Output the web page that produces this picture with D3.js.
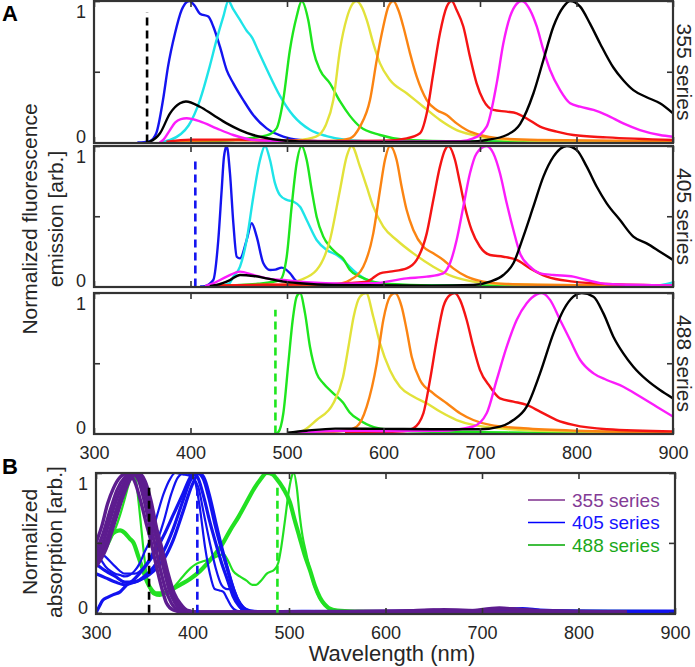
<!DOCTYPE html>
<html><head><meta charset="utf-8">
<script src="https://cdn.jsdelivr.net/npm/d3@7"></script>
<style>
body{margin:0;background:#fff}
svg{display:block}
text{font-family:"Liberation Sans",Arial,Helvetica,sans-serif}
</style>
</head><body>
<svg id="c" width="695" height="667"></svg>
<script>
// ---------------- DATA ----------------
const xTicks = [300,400,500,600,700,800,900];
const yTicks = [0,0.5,1];
const seriesNames = ["355 series","405 series","488 series"];
const excitation = [355,405,488];
const excitationTop = [0.92,0.9,0.88];
const absExcitationTop = 0.93;

// Emission, 355 series  [wavelength nm, normalized value]
const em355_blue = [[345,0],[352,0.003],[358,0.01],[364.5,0.065],[371.5,0.3],[376.7,0.536],[383.9,0.77],[390.8,0.936],[398.8,1.0],[404,0.97],[409.8,0.91],[418.5,0.89],[423.6,0.82],[430.5,0.677],[437.5,0.512],[444.4,0.418],[454.7,0.30],[465,0.194],[478.9,0.10],[496.1,0.042],[513.3,0.018],[540,0.008],[600,0.004],[900,0.003]];
const em355_cyan = [[370,0.002],[378.8,0.018],[390,0.06],[398,0.12],[409.8,0.30],[420,0.54],[427,0.725],[434,0.889],[439.2,1.0],[444.4,0.94],[451.3,0.866],[458.2,0.79],[464,0.74],[470,0.65],[478.9,0.52],[492.7,0.33],[506.5,0.19],[523.8,0.09],[541,0.045],[561.8,0.018],[600,0.006],[900,0.004]];
const em355_green = [[400,0.005],[444.4,0.018],[478.9,0.05],[489.2,0.1],[496.1,0.30],[503,0.654],[510,0.89],[515.2,1.0],[522,0.866],[527.2,0.654],[534.2,0.512],[544.5,0.418],[555,0.29],[565,0.19],[575.6,0.112],[596.4,0.053],[624,0.018],[680,0.008],[900,0.004]];
const em355_yellow = [[470,0.004],[510,0.015],[530,0.041],[540,0.12],[548,0.30],[555,0.66],[562,0.88],[567,0.97],[572,1.0],[578,0.95],[582.6,0.866],[589.4,0.701],[596.4,0.559],[606.7,0.442],[624,0.348],[641.3,0.253],[658.5,0.159],[675.8,0.088],[693,0.053],[710,0.029],[745,0.015],[800,0.008],[900,0.005]];
const em355_orange = [[380,0.01],[450,0.015],[520,0.008],[550,0.012],[565.3,0.029],[575.6,0.112],[586,0.30],[593,0.584],[599.8,0.82],[605,0.96],[610.2,1.0],[615.4,0.936],[620.5,0.82],[627.5,0.63],[634.4,0.465],[644.8,0.30],[655.1,0.23],[665.5,0.194],[675.8,0.135],[686.2,0.088],[700,0.053],[720.7,0.029],[760,0.018],[900,0.01]];
const em355_red = [[375,0.005],[400,0.02],[450,0.02],[500,0.015],[560,0.01],[600,0.012],[624,0.029],[637.8,0.065],[644.8,0.206],[651.6,0.489],[658.5,0.772],[665.5,0.96],[670.7,1.0],[675.8,0.936],[682.7,0.82],[689.6,0.607],[696.5,0.418],[703.4,0.30],[713.8,0.23],[727.7,0.218],[738,0.206],[748.4,0.17],[762.2,0.112],[779.5,0.077],[796.7,0.053],[831.3,0.036],[900,0.018]];
const em355_magenta = [[368,0],[372,0.02],[378,0.08],[384,0.14],[390,0.165],[396,0.171],[409.8,0.15],[427,0.10],[444.4,0.053],[465,0.018],[500,0.01],[600,0.006],[680,0.01],[693,0.029],[706.9,0.112],[717.3,0.418],[724.2,0.701],[731.1,0.889],[738,0.98],[743.3,1.0],[751.9,0.936],[758.8,0.82],[765.7,0.654],[772.6,0.512],[783,0.37],[793.4,0.277],[803.8,0.253],[817.6,0.23],[831.3,0.194],[848.5,0.135],[865.8,0.088],[886.5,0.053],[900,0.041]];
const em355_black = [[355,0],[358,0.006],[368.4,0.065],[378.8,0.206],[389.1,0.277],[395.3,0.29],[409.8,0.253],[423.6,0.194],[437.5,0.135],[451.3,0.088],[465,0.053],[485.8,0.023],[513,0.008],[600,0.004],[690,0.006],[706.9,0.018],[727.7,0.053],[741.5,0.13],[755.4,0.348],[765.7,0.583],[776.1,0.82],[786.5,0.96],[793.4,1.0],[803.8,0.96],[814,0.84],[824.4,0.70],[838.2,0.53],[848.5,0.44],[858.9,0.37],[872.7,0.32],[886.5,0.277],[900,0.206]];

// Emission, 405 series
const em405_blue = [[410,0],[415,0.003],[423.6,0.046],[428.8,0.331],[432.3,0.687],[434.7,0.924],[437.5,1.0],[440.9,0.806],[444.4,0.45],[447.9,0.212],[451.3,0.20],[458.2,0.331],[463.4,0.45],[468.6,0.355],[475.5,0.165],[482.4,0.117],[488,0.12],[494.5,0.134],[503.1,0.094],[508,0.05],[513.5,0.023],[530,0.008],[600,0.004],[900,0.003]];
const em405_cyan = [[430,0.003],[440,0.02],[444.4,0.07],[451.3,0.141],[458.2,0.331],[465.1,0.639],[472,0.9],[477.2,1.0],[482.4,0.9],[487.6,0.734],[492.7,0.65],[499.7,0.616],[506.6,0.604],[513.5,0.568],[520.4,0.473],[530.7,0.331],[541.1,0.26],[551.5,0.224],[558,0.19],[565,0.14],[575,0.08],[590,0.03],[620,0.01],[700,0.005],[880,0.005],[900,0.03]];
const em405_green = [[430,0.005],[470,0.02],[492.7,0.046],[499.7,0.212],[504.8,0.568],[510,0.877],[515.2,1.0],[520.4,0.9],[525.6,0.687],[530.7,0.497],[537.6,0.355],[544.5,0.283],[551.5,0.236],[558,0.2],[565,0.12],[575.6,0.07],[589,0.035],[606.7,0.018],[650,0.008],[900,0.004]];
const em405_yellow = [[490,0.005],[513.5,0.046],[530.7,0.117],[544.5,0.331],[554.9,0.687],[561.8,0.924],[567,1.0],[575.6,0.853],[582.6,0.71],[589.4,0.568],[599.8,0.426],[613.6,0.331],[630.9,0.236],[651.6,0.141],[672.3,0.07],[693,0.035],[720.7,0.018],[800,0.008],[900,0.005]];
const em405_orange = [[420,0.008],[480,0.012],[520,0.008],[550,0.015],[565.3,0.046],[579,0.141],[589.4,0.378],[596.4,0.687],[601.5,0.9],[606.7,1.0],[613.6,0.9],[618.8,0.71],[624,0.544],[630.9,0.402],[641.3,0.283],[651.6,0.236],[662,0.189],[672.3,0.129],[686.2,0.07],[703.4,0.035],[727.7,0.018],[800,0.01],[900,0.006]];
const em405_red = [[420,0.005],[480,0.012],[540,0.015],[565,0.025],[582.6,0.035],[596.4,0.094],[606.7,0.106],[624,0.129],[634.4,0.189],[644.8,0.378],[651.6,0.616],[658.5,0.853],[663.7,0.971],[667.2,1.0],[674.1,0.9],[679.3,0.734],[684.4,0.568],[691.3,0.402],[700,0.283],[710.4,0.224],[724.2,0.212],[738,0.189],[751.9,0.129],[769.2,0.07],[796.7,0.035],[831.3,0.018],[900,0.008]];
const em405_magenta = [[415,0.003],[423.6,0.023],[437.5,0.07],[451.3,0.106],[465.1,0.082],[478.9,0.058],[496.1,0.046],[520,0.03],[560,0.02],[589.4,0.023],[624,0.058],[644.8,0.07],[662,0.094],[668.9,0.165],[675.8,0.331],[682.7,0.568],[689.6,0.806],[696.5,0.948],[706.9,1.0],[713.8,0.948],[720.7,0.806],[727.7,0.592],[734.6,0.402],[741.5,0.236],[751.9,0.141],[762.2,0.094],[776.1,0.082],[796.7,0.07],[810.5,0.046],[831.3,0.018],[900,0.008]];
const em405_black = [[420,0.002],[427,0.011],[440.9,0.046],[451.3,0.082],[465.1,0.075],[478.9,0.058],[496.1,0.035],[513.5,0.023],[548,0.011],[650,0.006],[693,0.011],[710.4,0.035],[724.2,0.082],[734.6,0.165],[744.9,0.355],[755.3,0.568],[765.7,0.782],[776.1,0.924],[790,1.0],[800.3,0.971],[810.6,0.853],[821,0.71],[831.3,0.592],[845.1,0.473],[858.9,0.355],[872.7,0.307],[886.5,0.248],[900,0.189]];

// Emission, 488 series
const em488_green = [[488,0],[491,0.01],[496.2,0.144],[501.4,0.5],[505.9,0.808],[510,0.974],[513.5,1.0],[518.7,0.855],[523.8,0.618],[530.7,0.428],[537.6,0.357],[548,0.286],[558,0.22],[565,0.15],[575,0.096],[590,0.045],[610,0.025],[650,0.012],[750,0.006],[900,0.004]];
const em488_yellow = [[500,0],[513.5,0.01],[530.7,0.096],[548,0.215],[558,0.4],[564,0.63],[569,0.83],[575.6,0.974],[582,1.0],[589.4,0.831],[596.4,0.641],[606.7,0.451],[617.1,0.333],[630.9,0.263],[644.8,0.215],[658.5,0.156],[675.8,0.096],[693,0.061],[710.4,0.044],[760,0.02],[900,0.008]];
const em488_orange = [[520,0.005],[560,0.02],[572.2,0.049],[582.6,0.191],[593,0.499],[599.8,0.808],[606.7,0.974],[611.9,1.0],[618.8,0.903],[624,0.737],[629.2,0.547],[637.8,0.381],[651.6,0.286],[665.5,0.215],[679.3,0.144],[693,0.096],[710.4,0.061],[745,0.037],[800,0.02],[900,0.01]];
const em488_red = [[560,0.005],[620,0.015],[630.9,0.037],[641.3,0.144],[648.2,0.381],[655.1,0.665],[662,0.903],[668.9,0.986],[674,1.0],[679.3,0.951],[686.2,0.808],[693,0.618],[700,0.451],[710.4,0.333],[720.7,0.25],[734.6,0.227],[748.4,0.203],[762.2,0.156],[779.5,0.096],[796.7,0.061],[831.3,0.03],[900,0.015]];
const em488_magenta = [[510,0.005],[560,0.02],[600,0.018],[660,0.02],[693,0.05],[706.9,0.144],[717.3,0.381],[727.7,0.618],[738,0.808],[748.4,0.927],[758.8,0.99],[764,1.0],[772.6,0.951],[783,0.808],[793.4,0.665],[803.8,0.523],[817.6,0.428],[831.3,0.381],[848.5,0.333],[865.8,0.263],[883.1,0.191],[900,0.12]];
const em488_black = [[500,0.005],[520,0.02],[550,0.035],[600,0.033],[650,0.03],[700,0.03],[720.7,0.049],[734.6,0.096],[748.4,0.191],[762.2,0.428],[776.1,0.713],[786.5,0.879],[796.7,0.974],[805.4,1.0],[817.6,0.974],[827.9,0.855],[838.2,0.689],[848.5,0.57],[858.9,0.475],[872.7,0.381],[886.5,0.309],[900,0.25]];

// Absorption, 355 series (purple)
const ab355_a = [[300,0.5],[306,0.62],[312,0.78],[318,0.89],[325,0.97],[333,1.0],[340,0.94],[347,0.78],[352,0.64],[356,0.54],[362,0.35],[368,0.18],[373,0.07],[380,0.02],[390,0.005],[450,0.004],[520,0.008],[600,0.006],[650,0.02],[680,0.01],[718,0.035],[740,0.02],[800,0.01],[850,0.006]];
const ab355_b = [[300,0.44],[307,0.56],[315,0.74],[322,0.88],[330,0.97],[337,1.0],[344,0.95],[350,0.8],[356,0.62],[360,0.52],[366,0.33],[372,0.17],[378,0.07],[385,0.02],[395,0.005],[450,0.004],[560,0.01],[640,0.015],[660,0.022],[700,0.015],[722,0.03],[760,0.015],[850,0.005]];
const ab355_c = [[300,0.4],[308,0.52],[316,0.7],[324,0.86],[332,0.96],[340,1.0],[347,0.94],[353,0.8],[359,0.62],[364,0.5],[370,0.32],[376,0.16],[382,0.07],[389,0.02],[398,0.005],[500,0.004],[850,0.004]];
const ab355_d = [[300,0.36],[309,0.48],[318,0.67],[326,0.84],[334,0.96],[342,1.0],[349,0.95],[355,0.82],[361,0.64],[367,0.45],[373,0.28],[380,0.13],[387,0.05],[394,0.015],[405,0.004],[500,0.004],[850,0.004]];
const ab355_e = [[300,0.33],[310,0.45],[320,0.66],[328,0.83],[336,0.96],[344,1.0],[351,0.94],[357,0.8],[363,0.6],[368,0.47],[374,0.3],[381,0.14],[388,0.06],[394,0.02],[405,0.004],[500,0.004],[850,0.004]];

// Absorption, 405 series (blue)
const ab405_a = [[300,0.42],[305,0.38],[310,0.33],[315,0.3],[320,0.28],[325,0.27],[330,0.26],[335,0.27],[340,0.3],[345,0.35],[350,0.43],[356,0.52],[363,0.69],[370,0.85],[377,0.96],[382,1.0],[390,0.99],[397,0.98],[402,0.95],[407,0.78],[413,0.47],[418,0.28],[423,0.17],[428,0.16],[432,0.15],[436,0.1],[440,0.05],[446,0.015],[460,0.005],[520,0.004]];
const ab405_b = [[300,0.0],[303,0.04],[307,0.09],[312,0.11],[318,0.13],[325,0.15],[332,0.2],[338,0.23],[345,0.28],[352,0.34],[360,0.42],[370,0.55],[380,0.7],[390,0.85],[397,0.96],[401,1.0],[406,0.96],[412,0.82],[418,0.65],[424,0.5],[430,0.36],[436,0.24],[442,0.12],[448,0.05],[455,0.015],[470,0.005],[520,0.004]];
const ab405_c = [[300,0.35],[310,0.3],[320,0.26],[330,0.22],[340,0.22],[350,0.26],[360,0.33],[370,0.44],[380,0.6],[390,0.8],[398,0.95],[405,1.0],[411,0.96],[417,0.82],[423,0.64],[429,0.48],[435,0.34],[441,0.2],[447,0.09],[453,0.035],[460,0.012],[480,0.005],[550,0.008],[600,0.01],[700,0.015],[742,0.03],[760,0.02],[800,0.012],[900,0.012]];
const ab405_d = [[300,0.28],[310,0.25],[320,0.22],[330,0.2],[340,0.22],[350,0.25],[360,0.3],[370,0.38],[380,0.52],[390,0.72],[400,0.92],[407,1.0],[413,0.95],[419,0.8],[425,0.62],[431,0.45],[437,0.3],[443,0.16],[449,0.07],[455,0.025],[465,0.008],[520,0.01],[600,0.008],[680,0.012],[735,0.025],[770,0.012],[900,0.006]];
const ab405_e = [[300,0.45],[310,0.4],[320,0.33],[330,0.28],[340,0.28],[350,0.33],[360,0.45],[370,0.65],[378,0.85],[385,0.97],[392,1.0],[400,0.97],[406,0.9],[412,0.7],[418,0.5],[424,0.32],[430,0.2],[436,0.17],[440,0.17],[444,0.12],[449,0.04],[455,0.01],[470,0.005],[520,0.004]];

// Absorption, 488 series (green)
const ab488_a = [[300,0.4],[305,0.45],[310,0.5],[315,0.55],[320,0.58],[325,0.59],[330,0.57],[335,0.53],[339,0.5],[344,0.4],[349,0.3],[353,0.22],[357,0.17],[362,0.14],[370,0.14],[377,0.16],[387,0.2],[397,0.24],[408,0.3],[421,0.4],[430,0.48],[439,0.59],[448,0.69],[456,0.79],[464,0.89],[470,0.95],[477,1.0],[483,0.99],[487,0.96],[494,0.89],[501,0.79],[506,0.66],[511,0.54],[516,0.42],[522,0.3],[527,0.19],[532,0.11],[537,0.06],[541,0.035],[550,0.015],[570,0.008],[600,0.005],[700,0.008],[900,0.005]];
const ab488_b = [[300,0.36],[305,0.4],[310,0.45],[315,0.52],[320,0.6],[325,0.7],[330,0.82],[334,0.92],[338,0.98],[341,0.96],[344,0.8],[347,0.6],[350,0.4],[353,0.25],[356,0.17],[360,0.13],[366,0.12],[372,0.14],[380,0.18],[390,0.26],[398,0.32],[404,0.35],[412,0.37],[421,0.39],[428,0.41],[432,0.42],[437,0.37],[442,0.3],[449,0.26],[456,0.23],[462,0.2],[466,0.2],[471,0.23],[477,0.28],[485,0.31],[489,0.36],[492,0.47],[496,0.67],[500,0.88],[503,0.98],[505,1.0],[508,0.9],[511,0.7],[514,0.55],[518,0.42],[522,0.3],[527,0.18],[532,0.1],[537,0.05],[545,0.02],[560,0.008],[600,0.005]];

// ---------------- STYLE MAPS ----------------
const emColorList = ["#1414f0","#1ee4e8","#1ee61e","#e2e23a","#fb8412","#f51414","#fb1cfb","#000000"];
const emPanels = [
  [em355_blue,em355_cyan,em355_green,em355_yellow,em355_orange,em355_red,em355_magenta,em355_black],
  [em405_blue,em405_cyan,em405_green,em405_yellow,em405_orange,em405_red,em405_magenta,em405_black],
  [em488_green,em488_yellow,em488_orange,em488_red,em488_magenta,em488_black]
];
const emPanelColors = [emColorList, emColorList, emColorList.slice(2)];
const excColors = ["#000000","#1414f0","#1ee61e"];
const panelBoxes = [{top:1,bottom:143},{top:146,bottom:287},{top:293,bottom:434}];

const absSets = [
  {curves:[ab355_a,ab355_b,ab355_c,ab355_d,ab355_e], color:"#5d1c8f", w:3.4},
  {curves:[ab405_a,ab405_e], color:"#1212f0", w:2.2},
  {curves:[ab405_b,ab405_c,ab405_d], color:"#1212f0", w:3.2},
  {curves:[ab488_a], color:"#22e022", w:4.2},
  {curves:[ab488_b], color:"#22e022", w:2.2}
];
const legendLineColors = ["#7e2f8e","#0000ff","#00a800"];
const legendTextColors = ["#833b96","#1414ff","#1aa81a"];

// ---------------- DRAW ----------------
const svg = d3.select("#c");
const axisColor = "#333333";
const labelColor = "#262626";
const TICK = 6;

function axes(g, x, y, box, showXLabels) {
  const L = x.range()[0], R = x.range()[1];
  const ax = d3.axisBottom(x).tickValues(xTicks).tickSizeInner(-TICK).tickSizeOuter(0).tickFormat(showXLabels ? d3.format("d") : "");
  const gb = g.append("g").attr("transform", `translate(0,${box.bottom})`).call(ax);
  const gt = g.append("g").attr("transform", `translate(0,${box.top})`)
    .call(d3.axisTop(x).tickValues(xTicks).tickSizeInner(-TICK).tickSizeOuter(0).tickFormat(""));
  const gl = g.append("g").attr("transform", `translate(${L},0)`)
    .call(d3.axisLeft(y).tickValues(yTicks).tickSizeInner(-TICK).tickSizeOuter(0).tickPadding(8).tickFormat(d => d === 0.5 ? "" : d3.format("d")(d)));
  const gr = g.append("g").attr("transform", `translate(${R},0)`)
    .call(d3.axisRight(y).tickValues(yTicks).tickSizeInner(-TICK).tickSizeOuter(0).tickFormat(""));
  [gb,gt,gl,gr].forEach(a => {
    a.select(".domain").remove();
    a.selectAll(".tick line").attr("stroke", axisColor).attr("stroke-width", 1.6);
    a.selectAll("text").attr("fill", labelColor).style("font-size","18px").style("font-family",'"Liberation Sans",Arial,sans-serif');
  });
  gl.selectAll(".tick text").attr("y", d => d === 1 ? 11 : (d === 0 ? -5.5 : 0));
  if (showXLabels) gb.selectAll(".tick text").attr("y", 12).attr("dy", "0.71em");
  g.append("rect").attr("x", L).attr("y", box.top).attr("width", R - L).attr("height", box.bottom - box.top)
    .attr("fill","none").attr("stroke", axisColor).attr("stroke-width", 2.2);
}

const xA = d3.scaleLinear().domain([300,900]).range([94,673]);

emPanels.forEach((curves, i) => {
  const box = panelBoxes[i];
  const y = d3.scaleLinear().domain([0,1]).range([box.bottom - 0.5, box.top]);
  const g = svg.append("g");
  const cid = "clipA" + i;
  svg.append("clipPath").attr("id", cid).append("rect")
    .attr("x", 94).attr("y", box.top).attr("width", 673 - 94).attr("height", box.bottom - box.top);
  const line = d3.line().x(d => xA(d[0])).y(d => y(d[1])).curve(d3.curveMonotoneX);
  const cg = g.append("g").attr("clip-path", `url(#${cid})`);
  cg.selectAll("path.em").data(curves).join("path").attr("class","em")
    .attr("d", line).attr("fill","none")
    .attr("stroke", (d,j) => emPanelColors[i][j]).attr("stroke-width", 2.4)
    .attr("stroke-linejoin","round");
  cg.append("line").attr("x1", xA(excitation[i])).attr("x2", xA(excitation[i]))
    .attr("y1", y(0)).attr("y2", y(excitationTop[i]))
    .attr("stroke", excColors[i]).attr("stroke-width", 2.6).attr("stroke-dasharray","8,5");
  axes(g, xA, y, box, i === 2);
  g.append("text").attr("transform", `translate(684,${(box.top+box.bottom)/2}) rotate(90)`)
    .attr("text-anchor","middle").attr("dominant-baseline","central")
    .attr("fill", labelColor).style("font-size","21px").text(seriesNames[i]);
});

// Panel A y label
svg.append("text").attr("transform","translate(37,219) rotate(-90)").attr("text-anchor","middle")
  .attr("fill", labelColor).style("font-size","21px").text("Normalized fluorescence");
svg.append("text").attr("transform","translate(63,219) rotate(-90)").attr("text-anchor","middle")
  .attr("fill", labelColor).style("font-size","21px").text("emission [arb.]");
svg.append("text").attr("x",2).attr("y",21).attr("fill","#000").style("font-size","22px").style("font-weight","bold").text("A");

// Panel B
const boxB = {top:473, bottom:614};
const xB = d3.scaleLinear().domain([300,900]).range([96,675]);
const yB = d3.scaleLinear().domain([0,1]).range([612.8,473]);
svg.append("clipPath").attr("id","clipB").append("rect")
  .attr("x",96).attr("y",boxB.top).attr("width",675-96).attr("height",boxB.bottom-boxB.top);
const gB = svg.append("g");
const cB = gB.append("g").attr("clip-path","url(#clipB)");
const lineB = d3.line().x(d => xB(d[0])).y(d => yB(d[1])).curve(d3.curveMonotoneX);
[absSets[3], absSets[4], absSets[1], absSets[2], absSets[0]].forEach(s => {
  cB.append("g").selectAll("path").data(s.curves).join("path")
    .attr("d", lineB).attr("fill","none").attr("stroke", s.color)
    .attr("stroke-width", s.w).attr("stroke-linejoin","round");
});
excitation.forEach((e,i) => {
  cB.append("line").attr("x1", xB(e)).attr("x2", xB(e))
    .attr("y1", yB(0)).attr("y2", yB(absExcitationTop))
    .attr("stroke", excColors[i]).attr("stroke-width", 2.6).attr("stroke-dasharray","8,5");
});
axes(gB, xB, yB, boxB, true);

// Legend
const legY = [500, 522.5, 545];
seriesNames.forEach((name, i) => {
  gB.append("line").attr("x1",528).attr("x2",565).attr("y1",legY[i]).attr("y2",legY[i])
    .attr("stroke", legendLineColors[i]).attr("stroke-width",1.6);
  gB.append("text").attr("x",572).attr("y",legY[i]).attr("dominant-baseline","central")
    .attr("fill", legendTextColors[i]).style("font-size","19px").text(name);
});

svg.append("text").attr("transform","translate(37,542) rotate(-90)").attr("text-anchor","middle")
  .attr("fill", labelColor).style("font-size","21px").text("Normalized");
svg.append("text").attr("transform","translate(62,542) rotate(-90)").attr("text-anchor","middle")
  .attr("fill", labelColor).style("font-size","21px").text("absorption [arb.]");
svg.append("text").attr("x",2).attr("y",474).attr("fill","#000").style("font-size","22px").style("font-weight","bold").text("B");
svg.append("text").attr("x",392).attr("y",661).attr("text-anchor","middle")
  .attr("fill", labelColor).style("font-size","22px").text("Wavelength (nm)");
</script>
</body></html>
